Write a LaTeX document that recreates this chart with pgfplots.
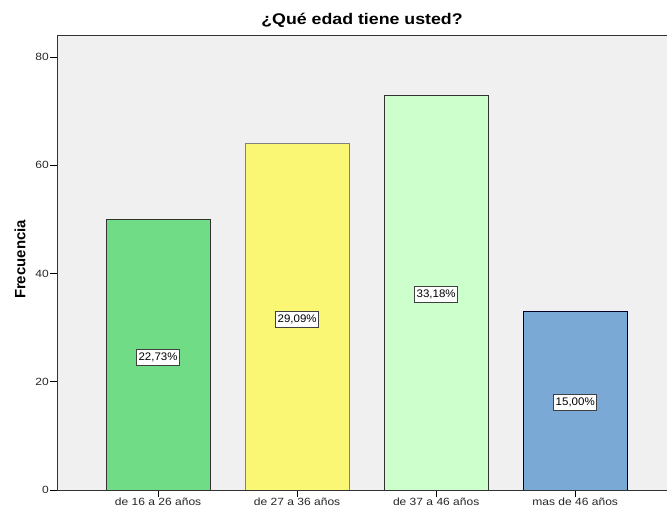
\documentclass[border=0pt]{standalone}
\usepackage{pgfplots}
\pgfplotsset{compat=1.18}
\usepackage{graphicx}
\usepackage{fontspec}
\setmainfont{Liberation Sans}
\definecolor{bgc}{RGB}{240,240,240}
\definecolor{c1}{RGB}{112,220,133}
\definecolor{c2}{RGB}{250,247,116}
\definecolor{c3}{RGB}{204,255,204}
\definecolor{c4}{RGB}{122,169,214}
\definecolor{edge}{RGB}{50,50,50}
\newcommand{\sx}[1]{\scalebox{1.15}[1]{#1}}
\begin{document}
\begin{tikzpicture}
\path[use as bounding box] (-57bp,-20bp) rectangle (610bp,490bp);
\begin{axis}[
  at={(0,0)}, anchor=south west,
  width=610bp, height=455bp, scale only axis,
  xmin=-0.727, xmax=3.66, ymin=0, ymax=84.1,
  axis background/.style={fill=bgc},
  axis line style={draw=black!80, line width=0.7pt},
  xtick={0,1,2,3},
  xticklabels={\sx{de 16 a 26 años}, \sx{de 27 a 36 años}, \sx{de 37 a 46 años}, \sx{mas de 46 años}},
  ytick={0,20,40,60,80},
  yticklabel={\sx{\pgfmathprintnumber{\tick}}},
  tick align=outside, tick pos=left,
  major tick length=7bp,
  every tick/.style={black, line width=0.9pt},
  tick label style={font=\fontsize{10.5}{12}\selectfont, text=black!85},
  yticklabel style={inner sep=1bp},
  xticklabel style={inner sep=1bp, yshift=0bp},
  /pgf/number format/assume math mode=true,
  ylabel={\bfseries Frecuencia},
  every axis y label/.style={at={(axis description cs:0,0.5)}, xshift=-37bp, yshift=3bp, rotate=90, anchor=center,
     font=\fontsize{15}{17}\selectfont},
  title={\bfseries \sx{¿Qué edad tiene usted?}},
  title style={at={(axis description cs:0.5,1)}, anchor=base, yshift=5bp, font=\fontsize{15.5}{17}\selectfont},
  bar width=104bp,
]
\addplot[ybar, fill=c1, draw=edge, line width=0.6pt] coordinates {(0,50)};
\addplot[ybar, fill=c2, draw=black!50, line width=0.6pt] coordinates {(1,64)};
\addplot[ybar, fill=c3, draw=edge, line width=0.6pt] coordinates {(2,73)};
\addplot[ybar, fill=c4, draw=black!60!blue!40!black, line width=0.6pt] coordinates {(3,33)};
\addplot[only marks, mark=none,
  nodes near coords={\scalebox{1.05}[1]{\pgfplotspointmeta}}, point meta=explicit symbolic,
  every node near coord/.append style={anchor=center, fill=white, draw=black!75,
    line width=0.7pt, inner xsep=2bp, inner ysep=3.5bp, font=\fontsize{11}{12}\selectfont}]
  coordinates {(0,24.5)[22,73\%] (1,31.5)[29,09\%] (2,36.2)[33,18\%] (3,16.2)[15,00\%]};
\end{axis}
\end{tikzpicture}
\end{document}
